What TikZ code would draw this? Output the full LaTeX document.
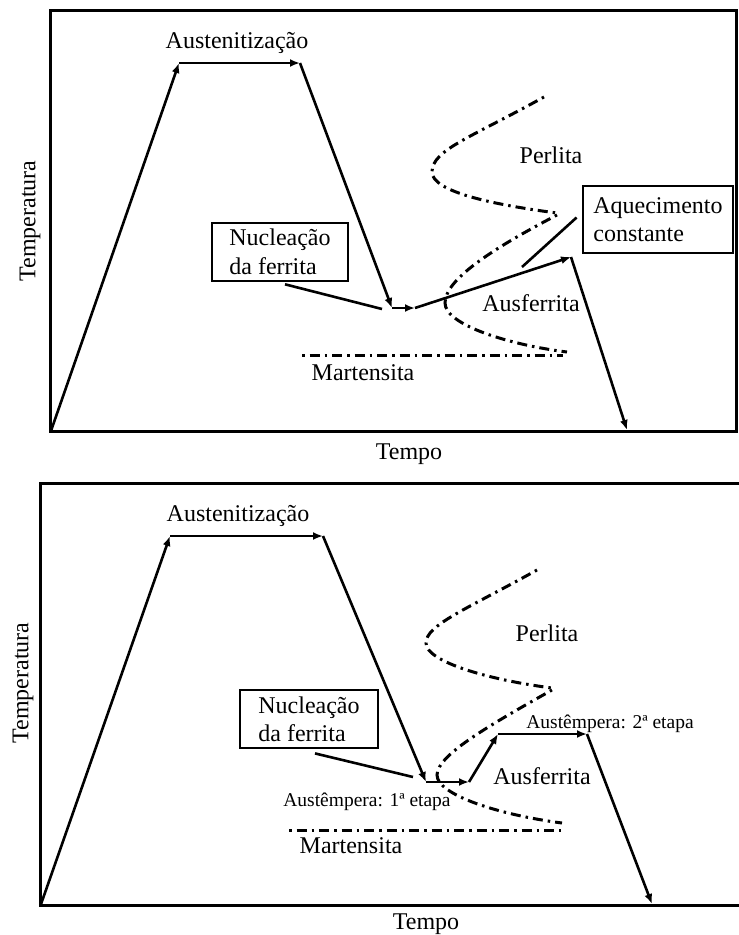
\documentclass[tikz,border=0pt]{standalone}
\usepackage{fontspec}
\setmainfont{Liberation Serif}
\usetikzlibrary{arrows.meta}

\tikzset{
  axisline/.style={line width=3pt},
  route/.style={line width=2.6pt, -{Latex[length=10pt,width=8pt]}},
  pointer/.style={line width=2.6pt},
  tcurve/.style={line width=3pt, dash pattern=on 2.5pt off 5pt on 10pt off 5pt},
  lbl/.style={font=\fontsize{24}{28.4}\selectfont, inner sep=0pt, anchor=base},
  smalllbl/.style={font=\fontsize{19.5}{22}\selectfont, inner sep=0pt, anchor=base},
  infobox/.style={draw, line width=2.8pt, align=left, font=\fontsize{24}{28.4}\selectfont},
}

\begin{document}
\begin{tikzpicture}[x=1pt, y=-1pt]
\useasboundingbox (0,0) rectangle (739,935);

% top diagram
\draw[axisline] (736,10.7) -- (50.7,10.7) -- (50.7,431.7) -- (736,431.7) -- cycle;
\coordinate (o1) at (50.7,431.7);
\coordinate (t1a) at (179,63);
\coordinate (t1b) at (300,63);
\coordinate (c1) at (392,308);
\coordinate (h1) at (415,308);
\coordinate (r1) at (571,257);
\coordinate (e1) at (627,430);
\draw[route] (o1) -- (t1a);
\draw[route] (t1a) -- (t1b);
\draw[route] (t1b) -- (c1);
\draw[route] (c1) -- (h1);
\draw[route] (h1) -- (r1);
\draw[route] (r1) -- (e1);

\draw[tcurve] (544,97) .. controls (470,138) and (432,150) .. (432,172) .. controls (432,192) and (495,205) .. (557,213);
\draw[tcurve] (557,215) .. controls (490,250) and (445,280) .. (445,303) .. controls (445,325) and (510,345) .. (567,352);
\draw[tcurve] (302,355) -- (563,355);

\node[lbl] (aust1) at (237,48) {Austenitização};
\node[lbl] (perl1) at (551,163) {Perlita};
\node[lbl] (ausf1) at (531,311.7) {Ausferrita};
\node[lbl] (mart1) at (363,380) {Martensita};
\node[lbl] (tempo1) at (409,459) {Tempo};
\node[font=\fontsize{24}{28.4}\selectfont, inner sep=0pt, rotate=90] (temp1) at (30,221) {Temperatura};
\node[infobox, minimum width=136, minimum height=58] (nuc1) at (280,251.9) {Nucleação\\da ferrita};
\node[infobox, minimum width=150, minimum height=67] (aq1) at (658,219.5) {Aquecimento\\constante};
\coordinate (nt1) at (382,309);
\coordinate (at1) at (522,267);
\draw[pointer] ([xshift=5pt, yshift=-2pt]nuc1.south) -- (nt1);
\draw[pointer] ([xshift=-5pt, yshift=2pt]aq1.west) -- (at1);

% bottom diagram
\draw[axisline] (739,483.3) -- (40.7,483.3) -- (40.7,905) -- (739,905);
\coordinate (o2) at (40.7,905);
\coordinate (t2a) at (170,536);
\coordinate (t2b) at (323,536);
\coordinate (c2) at (426,782);
\coordinate (h2) at (469,782);
\coordinate (r2) at (498,734);
\coordinate (s2) at (587,734);
\coordinate (e2) at (652,904);
\draw[route] (o2) -- (t2a);
\draw[route] (t2a) -- (t2b);
\draw[route] (t2b) -- (c2);
\draw[route] (c2) -- (h2);
\draw[route] (h2) -- (r2);
\draw[route] (r2) -- (s2);
\draw[route] (s2) -- (e2);

\draw[tcurve] (537,570) .. controls (465,610) and (426,625) .. (426,643) .. controls (426,662) and (490,680) .. (552,688);
\draw[tcurve] (552,690) .. controls (490,725) and (437,755) .. (437,775) .. controls (437,795) and (500,815) .. (562,823);
\draw[tcurve] (289,830) -- (561,830);

\node[lbl] (aust2) at (238,521.7) {Austenitização};
\node[lbl] (perl2) at (547,641.7) {Perlita};
\node[lbl] (ausf2) at (542,784.3) {Ausferrita};
\node[lbl] (mart2) at (351,853) {Martensita};
\node[lbl] (tempo2) at (426,929) {Tempo};
\node[font=\fontsize{24}{28.4}\selectfont, inner sep=0pt, rotate=90] (temp2) at (23,683) {Temperatura};
\node[smalllbl] (etapa1) at (367,806.7) {Austêmpera: 1ª etapa};
\node[smalllbl] (etapa2) at (610,728) {Austêmpera: 2ª etapa};
\node[infobox, minimum width=138, minimum height=58] (nuc2) at (309,719) {Nucleação\\da ferrita};
\coordinate (nt2) at (413,777);
\draw[pointer] ([xshift=6pt, yshift=-4pt]nuc2.south) -- (nt2);
\end{tikzpicture}
\end{document}
